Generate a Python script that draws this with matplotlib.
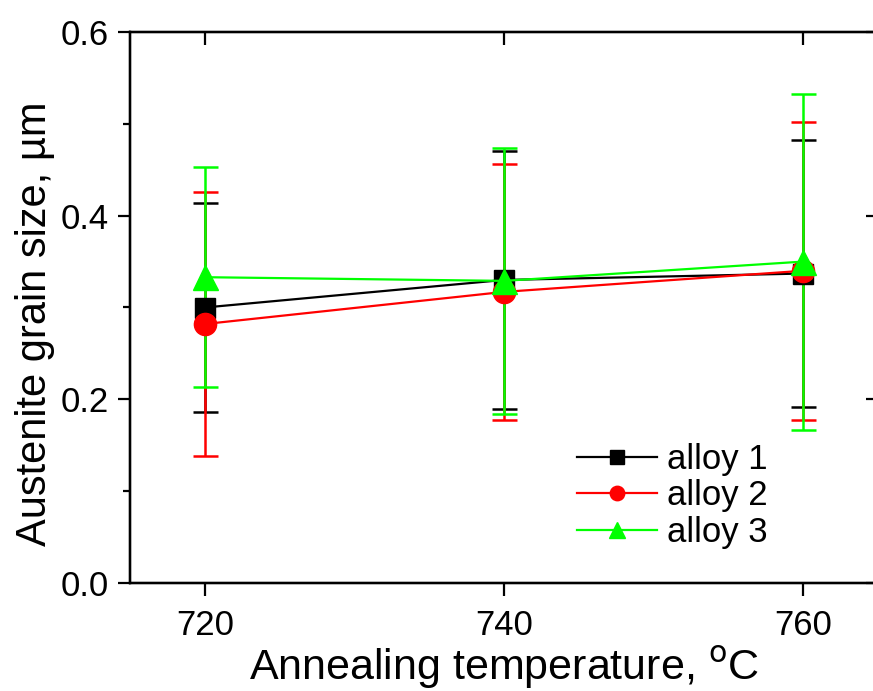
import matplotlib
matplotlib.use("Agg")
import matplotlib.pyplot as plt
from matplotlib.ticker import MultipleLocator

plt.rcParams['font.family'] = ['Liberation Sans', 'DejaVu Sans']

temps = [720, 740, 760]
alloy1 = [0.300, 0.330, 0.337]
alloy1_err = [0.114, 0.140, 0.145]
alloy2 = [0.282, 0.317, 0.340]
alloy2_err = [0.144, 0.139, 0.162]
alloy3 = [0.333, 0.329, 0.350]
alloy3_err = [0.120, 0.145, 0.183]
labels = ["alloy 1", "alloy 2", "alloy 3"]

fig = plt.figure(figsize=(8.73, 6.91), dpi=100)
ax = fig.add_axes([130/873, 108/691, 748/873, 551/691])

series = [
    (alloy1, alloy1_err, 'black', 's', 15),
    (alloy2, alloy2_err, '#FF0000', 'o', 16),
    (alloy3, alloy3_err, '#00FF00', '^', 18),
]
handles = []
for (vals, errs, col, mk, ms), lab in zip(series, labels):
    ax.errorbar(temps, vals, yerr=errs, fmt='none', ecolor=col, elinewidth=1.8,
                capsize=9, capthick=1.8, zorder=2)
    h, = ax.plot(temps, vals, color=col, marker=mk, markersize=ms, lw=1.6,
                 label=lab, zorder=3)
    handles.append(h)

ax.set_xlim(715, 765)
ax.set_ylim(0, 0.6)
ax.xaxis.set_major_locator(MultipleLocator(20))
ax.yaxis.set_major_locator(MultipleLocator(0.2))
ax.yaxis.set_minor_locator(MultipleLocator(0.1))

for sp in ax.spines.values():
    sp.set_linewidth(1.6)
ax.tick_params(which='major', direction='out', length=9, width=1.6, labelsize=25)
ax.tick_params(axis='x', which='major', pad=10)
ax.tick_params(axis='y', which='major', pad=6)
ax.tick_params(which='minor', direction='out', length=5, width=1.6)
ax.tick_params(top=False, right=False)

axr = ax.twinx()
axr.set_ylim(0, 0.6)
axr.yaxis.set_major_locator(MultipleLocator(0.2))
axr.yaxis.set_minor_locator(MultipleLocator(0.1))
axr.tick_params(which='major', direction='in', length=9, width=1.6, labelright=False)
axr.tick_params(which='minor', direction='in', length=3, width=1.6)
axt = ax.twiny()
axt.set_xlim(715, 765)
axt.xaxis.set_major_locator(MultipleLocator(20))
axt.tick_params(which='major', direction='in', length=9, width=1.6, labeltop=False)
for a in (axr, axt):
    for sp in a.spines.values():
        sp.set_linewidth(1.6)

ax.set_xlabel("Annealing temperature, $^{\\mathrm{o}}$C", fontsize=31, labelpad=2)
ax.set_ylabel("Austenite grain size, \u00b5m", fontsize=30, labelpad=10)
ax.yaxis.set_label_coords(-0.10, 0.47)

ax.legend(handles=handles, loc='upper left', bbox_to_anchor=(577/873, 1 - 443/691),
          bbox_transform=fig.transFigure, frameon=False, fontsize=25,
          handlelength=2.3, handletextpad=0.3, labelspacing=0.1, markerscale=0.65,
          borderpad=0, borderaxespad=0)

fig.savefig("out.png", dpi=100)
